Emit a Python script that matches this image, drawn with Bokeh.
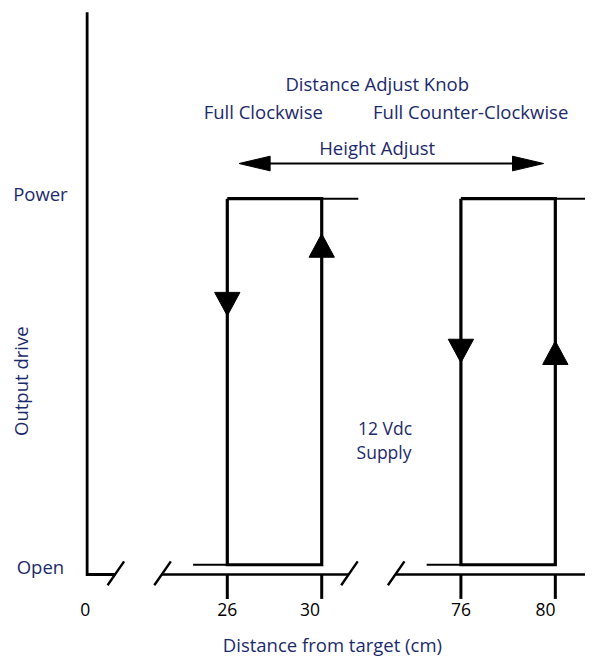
import numpy as np
from bokeh.plotting import figure
from bokeh.models import Range1d
from bokeh.core.properties import value
from bokeh.embed import file_html
from bokeh.resources import INLINE

# ---------------- data ----------------
tick_cm = [0, 26, 30, 76, 80]
tick_labels = ["0", "26", "30", "76", "80"]
level_values = [1, 0]
level_labels = ["Power", "Open"]
loops_cm = [(26, 30), (76, 80)]          # switch points of each hysteresis loop
tail_low_cm = [24.55, 74.55]             # lower level line starts here
tail_high_cm = [31.55, 82.0]             # upper level line ends here
arrow_cm = [26, 30, 76, 80]
arrow_tip_level = [0.68, 0.904, 0.552, 0.611]
arrow_dir = [-1, 1, -1, 1]               # -1 = pointing down, 1 = up

# ------------- broken-axis scales (reference-pixel frame) -------------
PX_PER_CM = 24.25
SEGMENTS = [(0, 90.0), (26, 233.0), (76, 473.0)]
BOUNDS = [13, 50]
W, H = 601, 672


def xs(cm):
    if cm < BOUNDS[0]:
        c0, p0 = SEGMENTS[0]
    elif cm < BOUNDS[1]:
        c0, p0 = SEGMENTS[1]
    else:
        c0, p0 = SEGMENTS[2]
    return p0 + (cm - c0) * PX_PER_CM


def ys(level):
    return H - (578.0 - 375.0 * level)


def py(y):
    return H - y


NAVY = "#1c2a6c"
FONT = value("Open Sans")
FS = "18.5px"

p = figure(width=585, height=656, x_range=Range1d(0, W), y_range=Range1d(0, H),
           output_backend="svg", toolbar_location=None,
           x_axis_location=None, y_axis_location=None, min_border=0)
p.xgrid.visible = False
p.ygrid.visible = False
p.outline_line_color = None
p.background_fill_color = "white"
p.border_fill_color = "white"

# ---- axes (broken x axis) ----
p.line([89, 89, 118], [py(12), py(588), py(588)], line_width=2.8, color="black", line_join="miter")
p.segment(x0=[165, 406], y0=[py(588)] * 2, x1=[358, 601], y1=[py(588)] * 2, line_width=2.4, color="black")
p.segment(x0=[110, 158, 350, 398], y0=[py(599)] * 4, x1=[127, 175, 367, 415], y1=[py(574.5)] * 4,
          line_width=2.4, color="black")
tx = [xs(c) for c in tick_cm[1:]]
p.segment(x0=tx, y0=[py(588)] * len(tx), x1=tx, y1=[py(613)] * len(tx), line_width=3, color="black")

label_shift = [-3, 0, -12, 0, -10]
p.text(x=[xs(c) + s for c, s in zip(tick_cm, label_shift)], y=[py(624)] * len(tick_cm), text=tick_labels,
       text_font=FONT, text_font_size="17.5px", text_align="center", text_baseline="middle", text_color="black")

# ---- hysteresis loops ----
for (a, b), lo, hi in zip(loops_cm, tail_low_cm, tail_high_cm):
    p.line([xs(a), xs(b), xs(b), xs(a), xs(a)], [ys(1), ys(1), ys(0), ys(0), ys(1)],
           line_width=3.2, color="black", line_join="miter")
    p.line([xs(lo), xs(a)], [ys(0), ys(0)], line_width=2, color="black")
    p.line([xs(b), xs(hi)], [ys(1), ys(1)], line_width=2, color="black")

# ---- direction arrows ----
tri_x, tri_y = [], []
for c, tip, d in zip(arrow_cm, arrow_tip_level, arrow_dir):
    x = xs(c)
    yt = ys(tip)
    yb = yt - d * 24
    tri_x.append([x - 13, x + 13, x])
    tri_y.append([yb, yb, yt])
p.patches(tri_x, tri_y, fill_color="black", line_color="black", line_width=1)

# ---- Height adjust arrow ----
p.line([262, 541], [py(167), py(167)], line_width=2.2, color="black")
p.patches([[245, 277, 277], [558, 526, 526]],
          [[py(167), py(159.5), py(174.5)], [py(167), py(159.5), py(174.5)]],
          fill_color="black", line_color="black", line_width=1)

# ---- texts ----
p.text(x=[387, 270, 483, 387], y=[py(85), py(114), py(114), py(151)],
       text=["Distance Adjust Knob", "Full Clockwise", "Full Counter-Clockwise", "Height Adjust"],
       text_font=FONT, text_font_size=FS, text_align="center", text_baseline="middle", text_color=NAVY)
p.text(x=[395, 394], y=[py(438), py(462)], text=["12 Vdc", "Supply"],
       text_font=FONT, text_font_size="17.5px", text_align="center", text_baseline="middle", text_color=NAVY)

p.text(x=[41, 41], y=[ys(v) + o for v, o in zip(level_values, [5, -2])], text=level_labels,
       text_font=FONT, text_font_size=FS, text_align="center", text_baseline="middle", text_color=NAVY)
p.text(x=[21], y=[py(390)], text=["Output drive"], angle=np.pi / 2,
       text_font=FONT, text_font_size=FS, text_align="center", text_baseline="middle", text_color=NAVY)
p.text(x=[341], y=[py(660)], text=["Distance from target (cm)"],
       text_font=FONT, text_font_size=FS, text_align="center", text_baseline="middle", text_color=NAVY)

open("out.html", "w").write(file_html(p, INLINE))
